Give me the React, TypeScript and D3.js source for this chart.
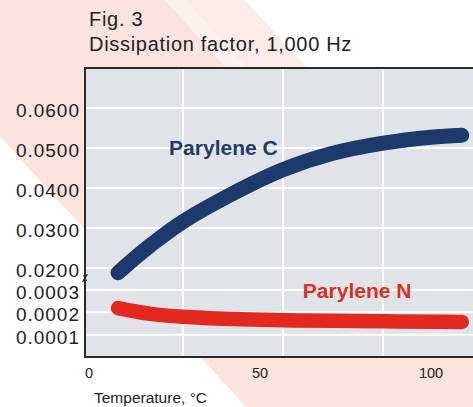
import { useRef, useEffect } from 'react';
import * as d3 from 'd3';

// Temperature (°C) and dissipation factor
const tempsC = [8.5, 13, 18, 27.5, 42, 56.5, 71, 86, 100, 109];
const valuesC = [0.0188, 0.0222, 0.0257, 0.0316, 0.0386, 0.0445, 0.0486, 0.0512, 0.0527, 0.0532];

const tempsN = [8.5, 18, 27.5, 42, 56.5, 71, 86, 100, 109];
const valuesN = [0.000219, 0.000193, 0.00018, 0.00017, 0.000165, 0.000162, 0.00016, 0.000158, 0.000157];

const xTicks = [0, 50, 100];
const upperTicks = [0.02, 0.03, 0.04, 0.05, 0.06];
const lowerTicks = [0.0001, 0.0002, 0.0003];
const gridTemps = [27.5, 56.7, 86, 115];

const W = 473;
const H = 407;

export default function App() {
  const svgRef = useRef<SVGSVGElement>(null);

  useEffect(() => {
    const svg = d3.select(svgRef.current);
    svg.selectAll('*').remove();

    const left = 85, top = 68, bottom = 357, right = 490;
    const brk = 279;

    const x = d3.scaleLinear().domain([0, 100]).range([89, 431]);
    const yUp = d3.scaleLinear().domain([0.02, 0.07]).range([268, top]);
    const yLo = d3.scaleLinear().domain([0, 0.0003]).range([bottom, 290]);

    // background decoration (diagonal pink bands)
    const slope = 1.1;
    const band = (x0: number, x1: number) => {
      const far = 700;
      return `M${x0},0 L${x1},0 L${x1 + far / slope},${far} L${x0 + far / slope},${far} Z`;
    };
    svg.append('rect').attr('width', W).attr('height', H).attr('fill', '#ffffff');
    svg.append('path').attr('d', band(-124, 165)).attr('fill', '#fbe4de');
    svg.append('path').attr('d', band(165, 185)).attr('fill', '#fdf1ee');
    svg.append('path').attr('d', band(185, 245)).attr('fill', '#fcebe6');

    // plot area
    svg.append('rect').attr('x', left).attr('y', top)
      .attr('width', right - left).attr('height', bottom - top)
      .attr('fill', '#e0e3e7');

    const grid = svg.append('g').attr('stroke', '#ffffff').attr('stroke-width', 2);
    gridTemps.forEach(t => {
      grid.append('line').attr('x1', x(t)).attr('x2', x(t)).attr('y1', top).attr('y2', bottom);
    });
    upperTicks.forEach(v => {
      grid.append('line').attr('x1', left).attr('x2', right).attr('y1', yUp(v)).attr('y2', yUp(v));
    });
    lowerTicks.forEach(v => {
      grid.append('line').attr('x1', left).attr('x2', right).attr('y1', yLo(v)).attr('y2', yLo(v));
    });

    // frame
    svg.append('path')
      .attr('d', `M${right},${top} L${left},${top} L${left},${bottom} L${right},${bottom}`)
      .attr('fill', 'none').attr('stroke', '#2a2a2a').attr('stroke-width', 2);

    // axis break mark
    svg.append('path')
      .attr('d', `M${left - 2},${brk - 3} L${left + 2},${brk - 4} L${left - 2},${brk + 2} L${left + 2},${brk + 1}`)
      .attr('fill', 'none').attr('stroke', '#2a2a2a').attr('stroke-width', 1.2);

    // curves
    const lineUp = d3.line<number>()
      .x((_, i) => x(tempsC[i]))
      .y(d => yUp(d))
      .curve(d3.curveCatmullRom);
    const lineLo = d3.line<number>()
      .x((_, i) => x(tempsN[i]))
      .y(d => yLo(d))
      .curve(d3.curveCatmullRom);

    svg.append('path').datum(valuesC).attr('d', lineUp)
      .attr('fill', 'none').attr('stroke', '#1c3a6b').attr('stroke-width', 15)
      .attr('stroke-linecap', 'round');
    svg.append('path').datum(valuesN).attr('d', lineLo)
      .attr('fill', 'none').attr('stroke', '#e3281f').attr('stroke-width', 14.5)
      .attr('stroke-linecap', 'round');

    const font = 'Liberation Sans, Arial, Helvetica, sans-serif';

    // series labels
    svg.append('text').attr('x', x(39.3)).attr('y', yUp(0.04825))
      .attr('text-anchor', 'middle').attr('font-family', font)
      .attr('font-size', 21).attr('font-weight', 'bold').attr('fill', '#1f3c6d')
      .text('Parylene C');
    svg.append('text').attr('x', x(78.4)).attr('y', yLo(0.000264))
      .attr('text-anchor', 'middle').attr('font-family', font)
      .attr('font-size', 21).attr('font-weight', 'bold').attr('fill', '#dc2e24')
      .text('Parylene N');

    // y tick labels
    const yLab = svg.append('g').attr('font-family', font).attr('font-size', 19)
      .attr('fill', '#222').attr('text-anchor', 'end').attr('letter-spacing', 1);
    upperTicks.forEach(v => {
      yLab.append('text').attr('x', 80).attr('y', yUp(v) + 9).text(v.toFixed(4));
    });
    lowerTicks.forEach(v => {
      yLab.append('text').attr('x', 80).attr('y', yLo(v) + 9).text(v.toFixed(4));
    });

    // x tick labels
    xTicks.forEach(t => {
      svg.append('text').attr('x', x(t)).attr('y', 378)
        .attr('text-anchor', 'middle').attr('font-family', font)
        .attr('font-size', 14.5).attr('fill', '#222').text(String(t));
    });

    svg.append('text').attr('x', 94).attr('y', 403)
      .attr('font-family', font).attr('font-size', 15.5).attr('fill', '#222')
      .text('Temperature, °C');

    // titles
    svg.append('text').attr('x', 89).attr('y', 26)
      .attr('font-family', font).attr('font-size', 20).attr('letter-spacing', 0.7)
      .attr('fill', '#222').text('Fig. 3');
    svg.append('text').attr('x', 89).attr('y', 51)
      .attr('font-family', font).attr('font-size', 20).attr('letter-spacing', 0.7)
      .attr('fill', '#222').text('Dissipation factor, 1,000 Hz');
  }, []);

  return (
    <svg ref={svgRef} width={W} height={H}
      style={{ display: 'block', position: 'absolute', left: 0, top: 0 }} />
  );
}
